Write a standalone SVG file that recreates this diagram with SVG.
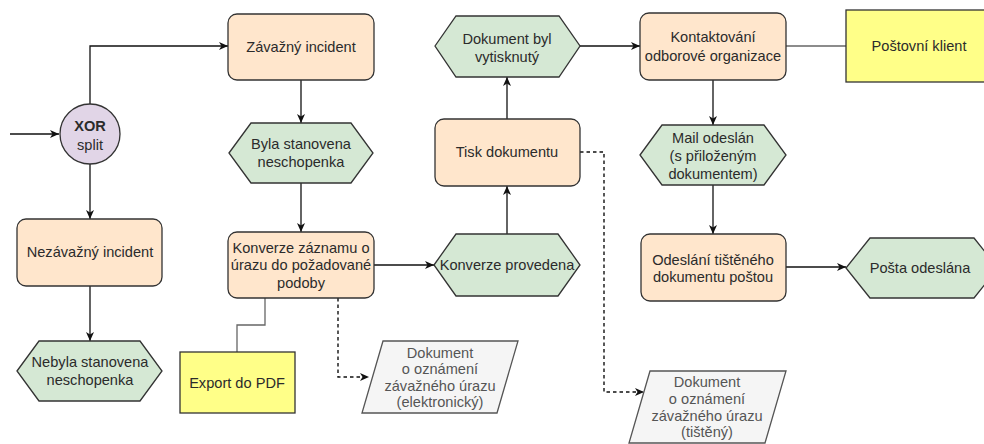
<svg xmlns="http://www.w3.org/2000/svg" width="984" height="444" viewBox="0 0 984 444">
  <defs>
    <style>
      text { font-family: "Liberation Sans", Arial, Helvetica, sans-serif; font-size: 14.6px; fill: #2b2b2b; text-anchor: middle; dominant-baseline: central; }
      .task { fill: #ffe6cc; stroke: #333; stroke-width: 1.3; }
      .event { fill: #d5e8d4; stroke: #333; stroke-width: 1.3; }
      .gate { fill: #e1d5e7; stroke: #333; stroke-width: 1.3; }
      .tool { fill: #ffff88; stroke: #333; stroke-width: 1.3; }
      .doc { fill: #f5f5f5; stroke: #555; stroke-width: 1.3; }
      .doc-text { fill: #555; }
      .flow { fill: none; stroke: #111; stroke-width: 1.3; }
      .link { fill: none; stroke: #666; stroke-width: 1.3; }
      .dash { fill: none; stroke: #111; stroke-width: 1.4; stroke-dasharray: 3.5 3; }
      .bold { font-weight: bold; }
    </style>
    <marker id="arrow" markerUnits="userSpaceOnUse" markerWidth="10" markerHeight="10" viewBox="0 0 10 10" refX="9" refY="5" orient="auto">
      <path d="M0,1 L9,5 L0,9 L2.5,5 Z" fill="#111"/>
    </marker>
  </defs>

  <!-- connectors -->
  <g id="connectors">
    <path class="flow" d="M10,134 H59" marker-end="url(#arrow)"/>
    <path class="flow" d="M90,104 V46 H228" marker-end="url(#arrow)"/>
    <path class="flow" d="M90,164 V219" marker-end="url(#arrow)"/>
    <path class="flow" d="M90,286 V341" marker-end="url(#arrow)"/>
    <path class="flow" d="M301,80 V123" marker-end="url(#arrow)"/>
    <path class="flow" d="M301,183 V232" marker-end="url(#arrow)"/>
    <path class="flow" d="M374,265 H434" marker-end="url(#arrow)"/>
    <path class="flow" d="M507,234 V186" marker-end="url(#arrow)"/>
    <path class="flow" d="M507,119 V77" marker-end="url(#arrow)"/>
    <path class="flow" d="M580,46 H640" marker-end="url(#arrow)"/>
    <path class="flow" d="M713,80 V125" marker-end="url(#arrow)"/>
    <path class="flow" d="M713,185 V234" marker-end="url(#arrow)"/>
    <path class="flow" d="M786,267 H846" marker-end="url(#arrow)"/>
    <path class="link" d="M265,298 V325 H237 V352"/>
    <path class="link" d="M786,46 H846"/>
    <path class="dash" d="M338,298 V377 H369" marker-end="url(#arrow)"/>
    <path class="dash" d="M580,152 H604 V392 H644" marker-end="url(#arrow)"/>
  </g>

  <!-- XOR split gateway -->
  <g id="xor-split">
    <circle class="gate" cx="90" cy="134" r="30"/>
    <text x="90" y="126" class="bold">XOR</text>
    <text x="90" y="145">split</text>
  </g>

  <g id="zavazny-incident">
    <rect class="task" x="228" y="14" width="146" height="66" rx="9"/>
    <text x="301" y="47">Závažný incident</text>
  </g>

  <g id="byla-stanovena">
    <polygon class="event" points="229,153 251,123 351,123 373,153 351,183 251,183"/>
    <text x="301" y="144">Byla stanovena</text>
    <text x="301" y="162">neschopenka</text>
  </g>

  <g id="nezavazny-incident">
    <rect class="task" x="17" y="219" width="145" height="67" rx="9"/>
    <text x="90" y="252">Nezávažný incident</text>
  </g>

  <g id="nebyla-stanovena">
    <polygon class="event" points="17,371 39,341 140,341 162,371 140,401 39,401"/>
    <text x="90" y="362">Nebyla stanovena</text>
    <text x="90" y="380">neschopenka</text>
  </g>

  <g id="konverze-zaznamu">
    <rect class="task" x="228" y="232" width="146" height="66" rx="9"/>
    <text x="301" y="248">Konverze záznamu o</text>
    <text x="301" y="265">úrazu do požadované</text>
    <text x="301" y="283">podoby</text>
  </g>

  <g id="export-pdf">
    <rect class="tool" x="180" y="352" width="115" height="61"/>
    <text x="237" y="383">Export do PDF</text>
  </g>

  <g id="dokument-elektronicky">
    <polygon class="doc" points="383,341 518,341 497,413 362,413"/>
    <text class="doc-text" x="440" y="353">Dokument</text>
    <text class="doc-text" x="440" y="369">o oznámení</text>
    <text class="doc-text" x="440" y="386">závažného úrazu</text>
    <text class="doc-text" x="440" y="402">(elektronický)</text>
  </g>

  <g id="konverze-provedena">
    <polygon class="event" points="434,265 456,234 558,234 580,265 558,296 456,296"/>
    <text x="507" y="265">Konverze provedena</text>
  </g>

  <g id="tisk-dokumentu">
    <rect class="task" x="435" y="119" width="145" height="67" rx="9"/>
    <text x="507" y="152">Tisk dokumentu</text>
  </g>

  <g id="dokument-vytisknuty">
    <polygon class="event" points="435,46 456,16 559,16 580,46 559,77 456,77"/>
    <text x="507" y="39">Dokument byl</text>
    <text x="507" y="57">vytisknutý</text>
  </g>

  <g id="kontaktovani">
    <rect class="task" x="640" y="13" width="146" height="67" rx="9"/>
    <text x="713" y="37">Kontaktování</text>
    <text x="713" y="56">odborové organizace</text>
  </g>

  <g id="postovni-klient">
    <rect class="tool" x="846" y="10" width="146" height="72"/>
    <text x="919" y="46">Poštovní klient</text>
  </g>

  <g id="mail-odeslan">
    <polygon class="event" points="640,155 662,125 764,125 786,155 764,185 662,185"/>
    <text x="713" y="138">Mail odeslán</text>
    <text x="713" y="156">(s přiloženým</text>
    <text x="713" y="174">dokumentem)</text>
  </g>

  <g id="odeslani-postou">
    <rect class="task" x="641" y="234" width="145" height="67" rx="9"/>
    <text x="713" y="260">Odeslání tištěného</text>
    <text x="713" y="277">dokumentu poštou</text>
  </g>

  <g id="posta-odeslana">
    <polygon class="event" points="846,268 870,238 974,238 998,268 974,298 870,298"/>
    <text x="920" y="268">Pošta odeslána</text>
  </g>

  <g id="dokument-tisteny">
    <polygon class="doc" points="650,371 786,371 765,443 629,443"/>
    <text class="doc-text" x="707" y="382">Dokument</text>
    <text class="doc-text" x="707" y="399">o oznámení</text>
    <text class="doc-text" x="707" y="416">závažného úrazu</text>
    <text class="doc-text" x="707" y="432">(tištěný)</text>
  </g>
</svg>
